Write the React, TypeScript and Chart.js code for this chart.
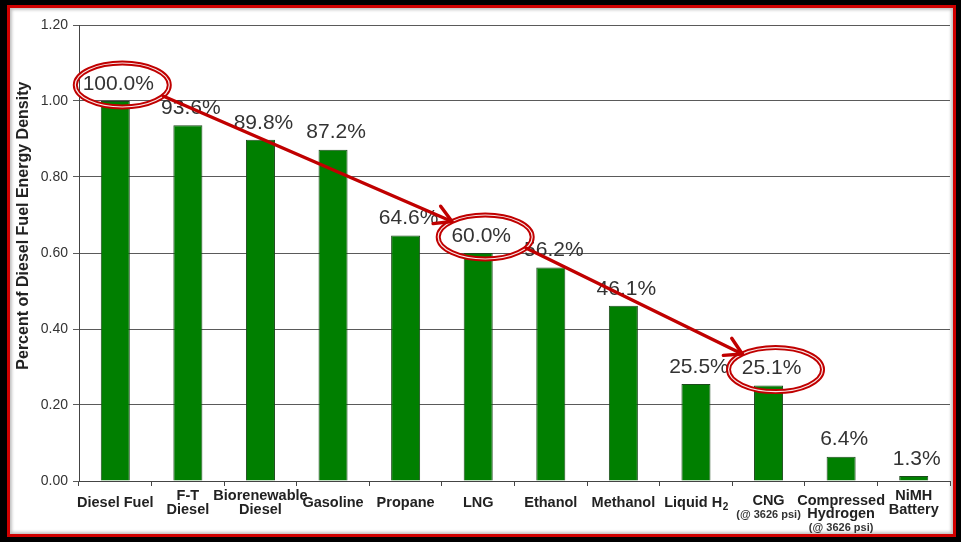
import React, { useEffect, useRef } from 'react';
import { Chart, registerables } from 'chart.js';

Chart.register(...registerables);

const categories = ['Diesel Fuel', 'F-T Diesel', 'Biorenewable Diesel', 'Gasoline', 'Propane', 'LNG', 'Ethanol', 'Methanol', 'Liquid H₂', 'CNG', 'Compressed Hydrogen', 'NiMH Battery'];
const labelLines = [['Diesel Fuel'], ['F-T', 'Diesel'], ['Biorenewable', 'Diesel'], ['Gasoline'], ['Propane'], ['LNG'], ['Ethanol'], ['Methanol'], ['Liquid H₂'], ['CNG'], ['Compressed', 'Hydrogen'], ['NiMH', 'Battery']];
const labelNotes = ['', '', '', '', '', '', '', '', '', '(@ 3626 psi)', '(@ 3626 psi)', ''];
const values = [1.0, 0.936, 0.898, 0.872, 0.646, 0.6, 0.562, 0.461, 0.255, 0.251, 0.064, 0.013];
const valueLabels = ['100.0%', '93.6%', '89.8%', '87.2%', '64.6%', '60.0%', '56.2%', '46.1%', '25.5%', '25.1%', '6.4%', '1.3%'];
const highlighted = [0, 5, 9];
const yTicks = [0, 0.2, 0.4, 0.6, 0.8, 1.0, 1.2];
const yAxisTitle = 'Percent of Diesel Fuel Energy Density';

const FONT = '"Liberation Sans", Arial, sans-serif';
const RED = '#c00000';

const annotatePlugin = {
  id: 'annotate',
  afterDatasetsDraw(chart: any) {
    const ctx = chart.ctx;
    const xs = chart.scales.x;
    const ys = chart.scales.y;
    const area = chart.chartArea;
    ctx.save();

    // value labels
    ctx.font = `21px ${FONT}`;
    ctx.fillStyle = '#333';
    ctx.textAlign = 'center';
    ctx.textBaseline = 'middle';
    values.forEach((v, i) => {
      ctx.fillText(valueLabels[i], xs.getPixelForValue(i) + 3, ys.getPixelForValue(v) - 17);
    });

    // x labels
    ctx.fillStyle = '#222';
    labelLines.forEach((lines, i) => {
      const cx = xs.getPixelForValue(i);
      const note = labelNotes[i];
      let ys0: number[];
      if (note) {
        ys0 = lines.map((_, k) => area.bottom + 20 + k * 13);
      } else {
        const n = lines.length;
        ys0 = lines.map((_, k) => area.bottom + 22 + (k - (n - 1) / 2) * 14);
      }
      lines.forEach((line, k) => {
        const yy = ys0[k];
        if (line.includes('₂')) {
          const main = line.replace('₂', '');
          ctx.font = `bold 14.5px ${FONT}`;
          const w1 = ctx.measureText(main).width;
          ctx.font = `bold 10px ${FONT}`;
          const w2 = ctx.measureText('2').width;
          const left = cx - (w1 + w2) / 2;
          ctx.textAlign = 'left';
          ctx.font = `bold 14.5px ${FONT}`;
          ctx.fillText(main, left, yy);
          ctx.font = `bold 10px ${FONT}`;
          ctx.fillText('2', left + w1 + 0.5, yy + 4);
          ctx.textAlign = 'center';
        } else {
          ctx.font = `bold 14.5px ${FONT}`;
          ctx.fillText(line, cx, yy);
        }
      });
      if (note) {
        ctx.font = `bold 11px ${FONT}`;
        ctx.fillStyle = '#333';
        ctx.fillText(note, cx, ys0[ys0.length - 1] + 14);
        ctx.fillStyle = '#222';
      }
    });

    // y axis title
    ctx.save();
    ctx.translate(area.left - 55, area.top + (area.bottom - area.top) * 0.44);
    ctx.rotate(-Math.PI / 2);
    ctx.font = `bold 16px ${FONT}`;
    ctx.fillStyle = '#222';
    ctx.fillText(yAxisTitle, 0, 0);
    ctx.restore();

    // highlight ellipses
    const rx = 47, ry = 22;
    const centers = highlighted.map((i) => ({
      cx: xs.getPixelForValue(i) + 7,
      cy: ys.getPixelForValue(values[i]) - 16,
    }));
    centers.forEach((c) => {
      ctx.beginPath();
      ctx.ellipse(c.cx, c.cy, rx, ry, 0, 0, Math.PI * 2);
      ctx.strokeStyle = RED;
      ctx.lineWidth = 5;
      ctx.stroke();
      ctx.beginPath();
      ctx.ellipse(c.cx, c.cy, rx, ry, 0, 0, Math.PI * 2);
      ctx.strokeStyle = 'rgba(255,255,255,0.9)';
      ctx.lineWidth = 1.2;
      ctx.stroke();
    });

    // arrows
    const startAng = (30 * Math.PI) / 180;
    const endAng = (225 * Math.PI) / 180;
    for (let k = 0; k < centers.length - 1; k++) {
      const a = centers[k];
      const b = centers[k + 1];
      const sx = a.cx + rx * Math.cos(startAng);
      const sy = a.cy + ry * Math.sin(startAng);
      const ex = b.cx + rx * Math.cos(endAng);
      const ey = b.cy + ry * Math.sin(endAng);
      ctx.strokeStyle = RED;
      ctx.lineWidth = 3.4;
      ctx.lineCap = 'round';
      ctx.lineJoin = 'round';
      ctx.beginPath();
      ctx.moveTo(sx, sy);
      ctx.lineTo(ex, ey);
      ctx.stroke();
      const ang = Math.atan2(ey - sy, ex - sx);
      const len = 19;
      const spread = (30 * Math.PI) / 180;
      ctx.beginPath();
      ctx.moveTo(ex - len * Math.cos(ang - spread), ey - len * Math.sin(ang - spread));
      ctx.lineTo(ex, ey);
      ctx.lineTo(ex - len * Math.cos(ang + spread), ey - len * Math.sin(ang + spread));
      ctx.stroke();
    }
    ctx.restore();
  },
};

export default function App() {
  const ref = useRef<HTMLCanvasElement | null>(null);
  useEffect(() => {
    if (!ref.current) return;
    const chart = new Chart(ref.current, {
      type: 'bar',
      data: {
        labels: categories,
        datasets: [
          {
            data: values,
            backgroundColor: '#007f00',
            borderColor: '#1d4a1d',
            borderWidth: 1,
            barPercentage: 0.4,
            categoryPercentage: 1,
          },
        ],
      },
      options: {
        responsive: false,
        animation: false,
        devicePixelRatio: 1,
        layout: { padding: { top: 25, right: 11, bottom: 0, left: 0 } },
        plugins: { legend: { display: false }, tooltip: { enabled: false }, title: { display: false } },
        scales: {
          x: {
            grid: { offset: true, drawOnChartArea: false, drawTicks: true, tickLength: 5, color: '#444' },
            border: { display: true, color: '#444', width: 1 },
            ticks: { display: false },
            afterFit: (s: any) => {
              s.height = 61;
            },
          },
          y: {
            min: 0,
            max: 1.2,
            afterBuildTicks: (s: any) => {
              s.ticks = yTicks.map((v) => ({ value: v }));
            },
            grid: { color: '#5a5a5a', lineWidth: 1, drawTicks: true, tickLength: 6 },
            border: { display: true, color: '#444', width: 1 },
            ticks: {
              padding: 5,
              color: '#333',
              font: { family: FONT, size: 14 },
              callback: (v: any) => Number(v).toFixed(2),
            },
            afterFit: (s: any) => {
              s.width = 79;
            },
          },
        },
      },
      plugins: [annotatePlugin],
    });
    return () => chart.destroy();
  }, []);

  return (
    <div style={{ position: 'absolute', left: 0, top: 0, width: 961, height: 542, background: '#000', overflow: 'hidden' }}>
      <div
        style={{
          position: 'absolute',
          left: 7,
          top: 5,
          width: 949,
          height: 532,
          boxSizing: 'border-box',
          border: '3px solid #d00000',
          background: '#fff',
          boxShadow: 'inset 0 0 3px 2px rgba(120,120,120,0.45)',
        }}
      />
      <canvas ref={ref} width={961} height={542} style={{ position: 'absolute', left: 0, top: 0, width: 961, height: 542 }} />
    </div>
  );
}
